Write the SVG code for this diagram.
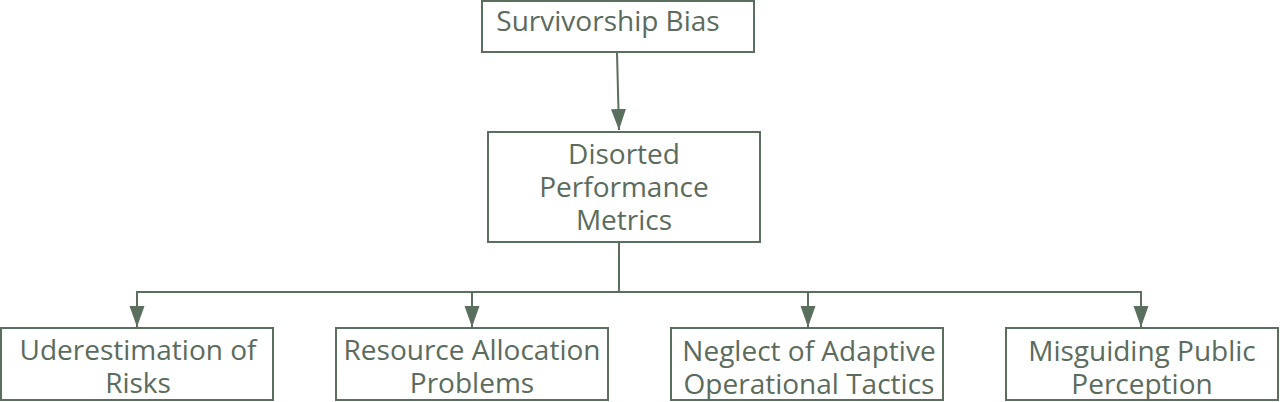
<svg xmlns="http://www.w3.org/2000/svg" width="1280" height="402" viewBox="0 0 1280 402">
<style>
.box{fill:#ffffff;stroke:#5b6f5e;stroke-width:2}
.lbl{font-family:"Open Sans","Liberation Sans",sans-serif;font-size:28px;fill:#5b6b5d;text-anchor:middle}
.edge{fill:none;stroke:#5b6f5e;stroke-width:2}
</style>
<defs>
<marker id="ah" markerUnits="userSpaceOnUse" markerWidth="22" markerHeight="16" refX="21" refY="7.5" orient="auto">
<path d="M0,0 L21,7.5 L0,15 z" fill="#5b6f5e"/>
</marker>
</defs>
<rect width="1280" height="402" fill="#ffffff"/>
<g id="connectors">
<path class="edge" d="M617,53 L619,130" marker-end="url(#ah)"/>
<path class="edge" d="M619,243 V292 H137 V327" marker-end="url(#ah)"/>
<path class="edge" d="M619,292 H472 V327" marker-end="url(#ah)"/>
<path class="edge" d="M619,292 H808 V327" marker-end="url(#ah)"/>
<path class="edge" d="M619,292 H1141 V327" marker-end="url(#ah)"/>
</g>
<g id="n-survivorship">
<rect class="box" x="482" y="1" width="272" height="51"/>
<text class="lbl" x="608" y="31">Survivorship Bias</text>
</g>
<g id="n-distorted">
<rect class="box" x="488" y="132" width="272" height="110"/>
<text class="lbl" x="624" y="164">Disorted</text>
<text class="lbl" x="624" y="197">Performance</text>
<text class="lbl" x="624" y="230">Metrics</text>
</g>
<g id="n-risks">
<rect class="box" x="1" y="328" width="272" height="72"/>
<text class="lbl" x="138" y="360">Uderestimation of</text>
<text class="lbl" x="138" y="393">Risks</text>
</g>
<g id="n-resource">
<rect class="box" x="336" y="328" width="272" height="72"/>
<text class="lbl" x="472" y="360">Resource Allocation</text>
<text class="lbl" x="472" y="393">Problems</text>
</g>
<g id="n-neglect">
<rect class="box" x="671" y="328" width="272" height="72"/>
<text class="lbl" x="809" y="361">Neglect of Adaptive</text>
<text class="lbl" x="809" y="394">Operational Tactics</text>
</g>
<g id="n-public">
<rect class="box" x="1006" y="328" width="272" height="72"/>
<text class="lbl" x="1142" y="361">Misguiding Public</text>
<text class="lbl" x="1142" y="394">Perception</text>
</g>
</svg>
